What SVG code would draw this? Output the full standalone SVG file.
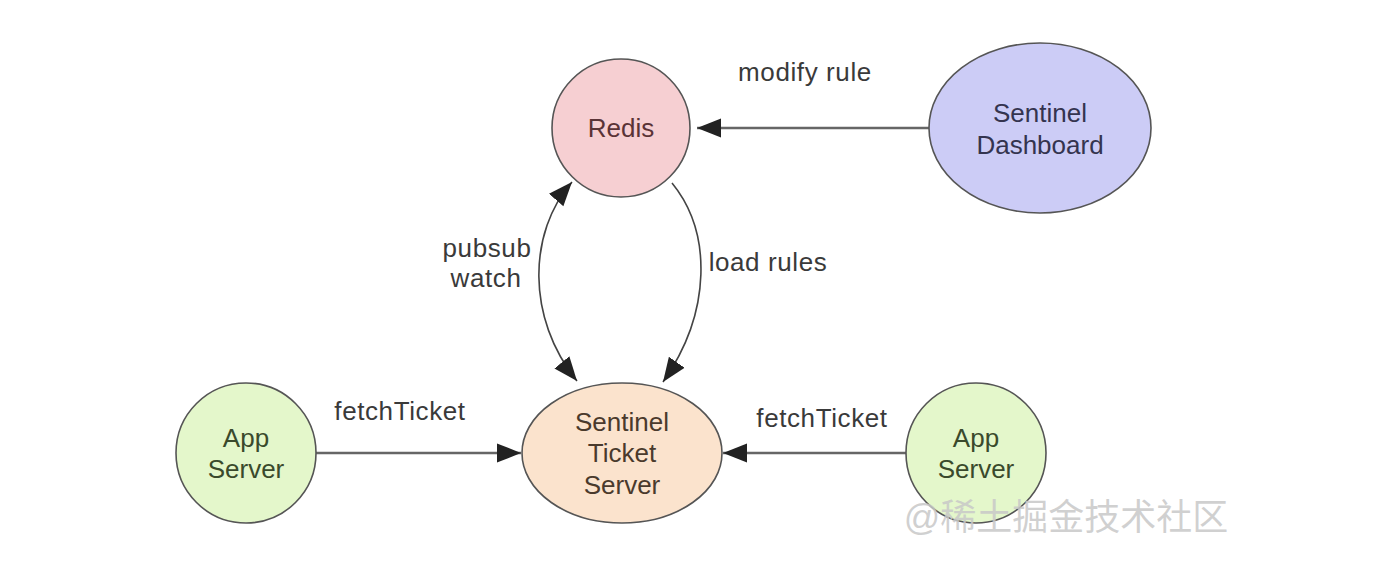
<svg xmlns="http://www.w3.org/2000/svg" width="1394" height="578" viewBox="0 0 1394 578">
<defs>
<marker id="ah" viewBox="0 0 10 10" refX="10" refY="5" markerWidth="24" markerHeight="24" markerUnits="userSpaceOnUse" orient="auto-start-reverse">
<path d="M0,1 L10,5 L0,9 Z" fill="#222"/>
</marker>
<style>
.node{stroke:#555;stroke-width:1.6}
.t{font-family:"Liberation Sans",Arial,sans-serif;font-size:26px;text-anchor:middle}
.lbl{font-family:"Liberation Sans",Arial,sans-serif;font-size:26px;fill:#3a3a3a;letter-spacing:0.6px;text-anchor:middle}
.edge{fill:none;stroke:#444;stroke-width:1.6}
.hedge{fill:none;stroke:#666;stroke-width:2.4}
</style>
</defs>
<rect width="1394" height="578" fill="#fff"/>
<g id="connectors">
<line class="hedge" x1="929" y1="128" x2="697" y2="128" marker-end="url(#ah)"/>
<line class="hedge" x1="316" y1="453" x2="521" y2="453" marker-end="url(#ah)"/>
<line class="hedge" x1="906" y1="453" x2="723" y2="453" marker-end="url(#ah)"/>
<path class="edge" d="M572,182 C528,232 526,318 577,381" marker-start="url(#ah)" marker-end="url(#ah)"/>
<path class="edge" d="M672,183 C712,232 712,312 663,382" marker-end="url(#ah)"/>
<text class="lbl" x="805" y="81">modify rule</text>
<text class="lbl" x="487" y="257">pubsub</text>
<text class="lbl" x="486" y="287">watch</text>
<text class="lbl" x="768" y="271">load rules</text>
<text class="lbl" x="400" y="420">fetchTicket</text>
<text class="lbl" x="822" y="427">fetchTicket</text>
</g>
<g id="redis">
<ellipse class="node" cx="621" cy="128" rx="69" ry="69" fill="#f6cfd2"/>
<text class="t" x="621" y="137" fill="#5a3336">Redis</text>
</g>
<g id="dashboard">
<ellipse class="node" cx="1040" cy="128" rx="111" ry="85" fill="#ccccf6"/>
<text class="t" x="1040" y="122" fill="#34344f">Sentinel</text>
<text class="t" x="1040" y="154" fill="#34344f">Dashboard</text>
</g>
<g id="ticket-server">
<ellipse class="node" cx="622" cy="453" rx="100" ry="70" fill="#fbe3cd"/>
<text class="t" x="622" y="431" fill="#4a3a2c">Sentinel</text>
<text class="t" x="622" y="462" fill="#4a3a2c">Ticket</text>
<text class="t" x="622" y="494" fill="#4a3a2c">Server</text>
</g>
<g id="app-left">
<ellipse class="node" cx="246" cy="453" rx="70" ry="70" fill="#e4f7cb"/>
<text class="t" x="246" y="447" fill="#3a4a2c">App</text>
<text class="t" x="246" y="478" fill="#3a4a2c">Server</text>
</g>
<g id="app-right">
<ellipse class="node" cx="976" cy="453" rx="70" ry="70" fill="#e4f7cb"/>
<text class="t" x="976" y="447" fill="#3a4a2c">App</text>
<text class="t" x="976" y="478" fill="#3a4a2c">Server</text>
</g>
<text x="1066" y="530" font-family="'Liberation Sans','Noto Sans CJK SC',sans-serif" font-size="36" fill="#c8c8c8" fill-opacity="0.85" text-anchor="middle">@稀土掘金技术社区</text>
</svg>
